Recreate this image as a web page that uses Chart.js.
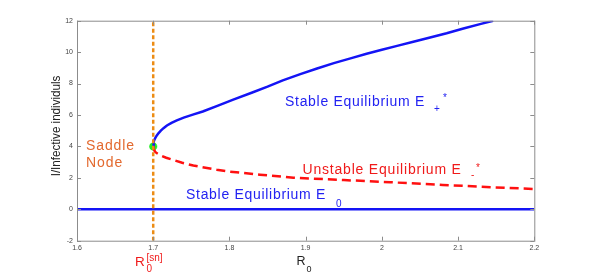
<!DOCTYPE html>
<html>
<head>
<meta charset="utf-8">
<script src="https://cdn.jsdelivr.net/npm/chart.js@4.4.1/dist/chart.umd.min.js"></script>
<style>
  html, body { margin: 0; padding: 0; background: #fff; }
  #wrap { width: 591px; height: 273px; }
</style>
</head>
<body>
<div id="wrap"><canvas id="bifurcationChart"></canvas></div>
<script>
const xTicks = [1.6, 1.7, 1.8, 1.9, 2.0, 2.1, 2.2];
const yTicks = [-2, 0, 2, 4, 6, 8, 10, 12];

// stable branch E+*
const stableR0 = [1.7, 1.7003, 1.7008, 1.7016, 1.7028, 1.7045, 1.7068, 1.71, 1.7135, 1.718, 1.724, 1.731, 1.74, 1.752, 1.765, 1.785, 1.805, 1.83, 1.85, 1.87, 1.893, 1.915, 1.937, 1.96, 1.98, 2.0, 2.02, 2.04, 2.062, 2.085, 2.107, 2.13, 2.146];
const stableI  = [4.0, 4.18, 4.3, 4.42, 4.54, 4.68, 4.83, 5.0, 5.16, 5.33, 5.5, 5.66, 5.83, 6.02, 6.22, 6.6, 6.98, 7.43, 7.8, 8.2, 8.6, 8.96, 9.3, 9.62, 9.9, 10.15, 10.4, 10.64, 10.92, 11.2, 11.5, 11.8, 12.0];

// unstable branch E-*
const unstableR0 = [1.7, 1.7008, 1.7024, 1.705, 1.71, 1.717, 1.7264, 1.738, 1.7526, 1.7833, 1.8, 1.84, 1.884, 1.95, 2.011, 2.08, 2.146, 2.2];
const unstableI  = [4.0, 3.82, 3.67, 3.56, 3.42, 3.28, 3.14, 2.96, 2.78, 2.52, 2.4, 2.2, 2.01, 1.86, 1.72, 1.55, 1.4, 1.29];

// disease-free E0
const trivialR0 = [1.6, 2.2];
const trivialI  = [0, 0];

// saddle node
const saddleR0 = [1.7];
const saddleI  = [4];
const snLineR0 = [1.7, 1.7];
const snLineI  = [-2, 12];

const pts = (xs, ys) => xs.map((x, i) => ({ x, y: ys[i] }));

const boxTicks = {
  id: 'boxTicks',
  afterDraw(chart) {
    const { ctx, chartArea: a, scales } = chart;
    ctx.save();
    ctx.strokeStyle = '#8c8c8c';
    ctx.lineWidth = 1;
    ctx.strokeRect(a.left + 0.5, a.top + 0.5, a.right - a.left, a.bottom - a.top);
    ctx.beginPath();
    xTicks.forEach((v) => {
      const px = Math.round(scales.x.getPixelForValue(v)) + 0.5;
      ctx.moveTo(px, a.bottom); ctx.lineTo(px, a.bottom - 4);
      ctx.moveTo(px, a.top); ctx.lineTo(px, a.top + 4);
    });
    yTicks.forEach((v) => {
      const py = Math.round(scales.y.getPixelForValue(v)) + 0.5;
      ctx.moveTo(a.left, py); ctx.lineTo(a.left + 4, py);
      ctx.moveTo(a.right, py); ctx.lineTo(a.right - 4, py);
    });
    ctx.stroke();
    ctx.restore();
  }
};

const labels = {
  id: 'labels',
  afterDraw(chart) {
    const ctx = chart.ctx;
    const font = (px) => `${px}px "Liberation Sans", Arial, Helvetica, sans-serif`;
    const text = (s, x, y, px, color, spacing) => {
      ctx.font = font(px);
      ctx.fillStyle = color;
      ctx.letterSpacing = (spacing || 0) + 'px';
      ctx.fillText(s, x, y);
      ctx.letterSpacing = '0px';
    };
    ctx.save();
    ctx.textBaseline = 'alphabetic';
    ctx.textAlign = 'left';

    const blue = '#2222f2';
    const red = '#f01a1a';
    const orange = '#e3692e';

    text('Stable Equilibrium E', 285, 105.5, 14, blue, 0.7);
    text('+', 434, 112, 10, blue);
    text('*', 443, 101, 10, blue);

    text('Unstable Equilibrium E', 302.5, 174, 14, red, 0.8);
    text('-', 471, 178, 10, red);
    text('*', 476, 171, 10, red);

    text('Stable Equilibrium E', 186, 199, 14, blue, 0.7);
    text('0', 336, 207, 10, blue);

    text('Saddle', 86, 150, 14, orange, 0.9);
    text('Node', 86, 167, 14, orange, 0.9);

    text('R', 135, 265.5, 13.5, red);
    text('0', 146.5, 272, 10, red);
    text('[sn]', 146.5, 261, 10, red);

    text('R', 296.5, 265, 12.5, '#222');
    text('0', 306.5, 271.5, 9, '#222');

    ctx.translate(55, 126);
    ctx.rotate(-Math.PI / 2);
    ctx.scale(0.86, 1);
    ctx.textAlign = 'center';
    text('I/Infective individuls', 0, 4.5, 13.5, '#222');
    ctx.restore();
  }
};

new Chart(document.getElementById('bifurcationChart').getContext('2d'), {
  type: 'line',
  data: {
    datasets: [
      {
        label: 'R0 sn',
        data: pts(snLineR0, snLineI),
        borderColor: '#ec8c14',
        borderWidth: 2.5,
        borderDash: [4, 2.5],
        pointRadius: 0
      },
      {
        label: 'E0',
        data: pts(trivialR0, trivialI),
        borderColor: '#1414f5',
        borderWidth: 2.5,
        pointRadius: 0
      },
      {
        label: 'E-*',
        data: pts(unstableR0, unstableI),
        borderColor: '#ff1010',
        borderWidth: 2.5,
        borderDash: [9, 5],
        pointRadius: 0,
        tension: 0
      },
      {
        label: 'E+*',
        data: pts(stableR0, stableI),
        borderColor: '#1414f5',
        borderWidth: 2.5,
        pointRadius: 0,
        tension: 0
      },
      {
        label: 'Saddle node',
        data: pts(saddleR0, saddleI),
        showLine: false,
        pointStyle: 'star',
        pointRadius: 4,
        pointBorderColor: '#20ee20',
        pointBackgroundColor: '#20ee20',
        pointBorderWidth: 2.5
      }
    ]
  },
  options: {
    responsive: true,
    maintainAspectRatio: false,
    animation: false,
    layout: { padding: { left: 47, right: 56.7, top: 20.7, bottom: 12.3 } },
    plugins: {
      legend: { display: false },
      tooltip: { enabled: false }
    },
    scales: {
      x: {
        type: 'linear',
        min: 1.6,
        max: 2.2,
        afterFit: (scale) => { scale.height = 20; },
        afterBuildTicks: (scale) => { scale.ticks = xTicks.map((v) => ({ value: v })); },
        grid: { display: false, drawTicks: false },
        border: { display: false },
        ticks: {
          padding: 3,
          color: '#444',
          font: { size: 7, family: '"Liberation Sans", Arial, sans-serif' },
          maxRotation: 0,
          callback: (v) => String(Math.round(v * 10) / 10)
        }
      },
      y: {
        type: 'linear',
        min: -2,
        max: 12,
        afterFit: (scale) => { scale.width = 30; },
        afterBuildTicks: (scale) => { scale.ticks = yTicks.map((v) => ({ value: v })); },
        grid: { display: false, drawTicks: false },
        border: { display: false },
        ticks: {
          padding: 4,
          color: '#444',
          font: { size: 7, family: '"Liberation Sans", Arial, sans-serif' },
          callback: (v) => String(v)
        }
      }
    }
  },
  plugins: [boxTicks, labels]
});
</script>
</body>
</html>
